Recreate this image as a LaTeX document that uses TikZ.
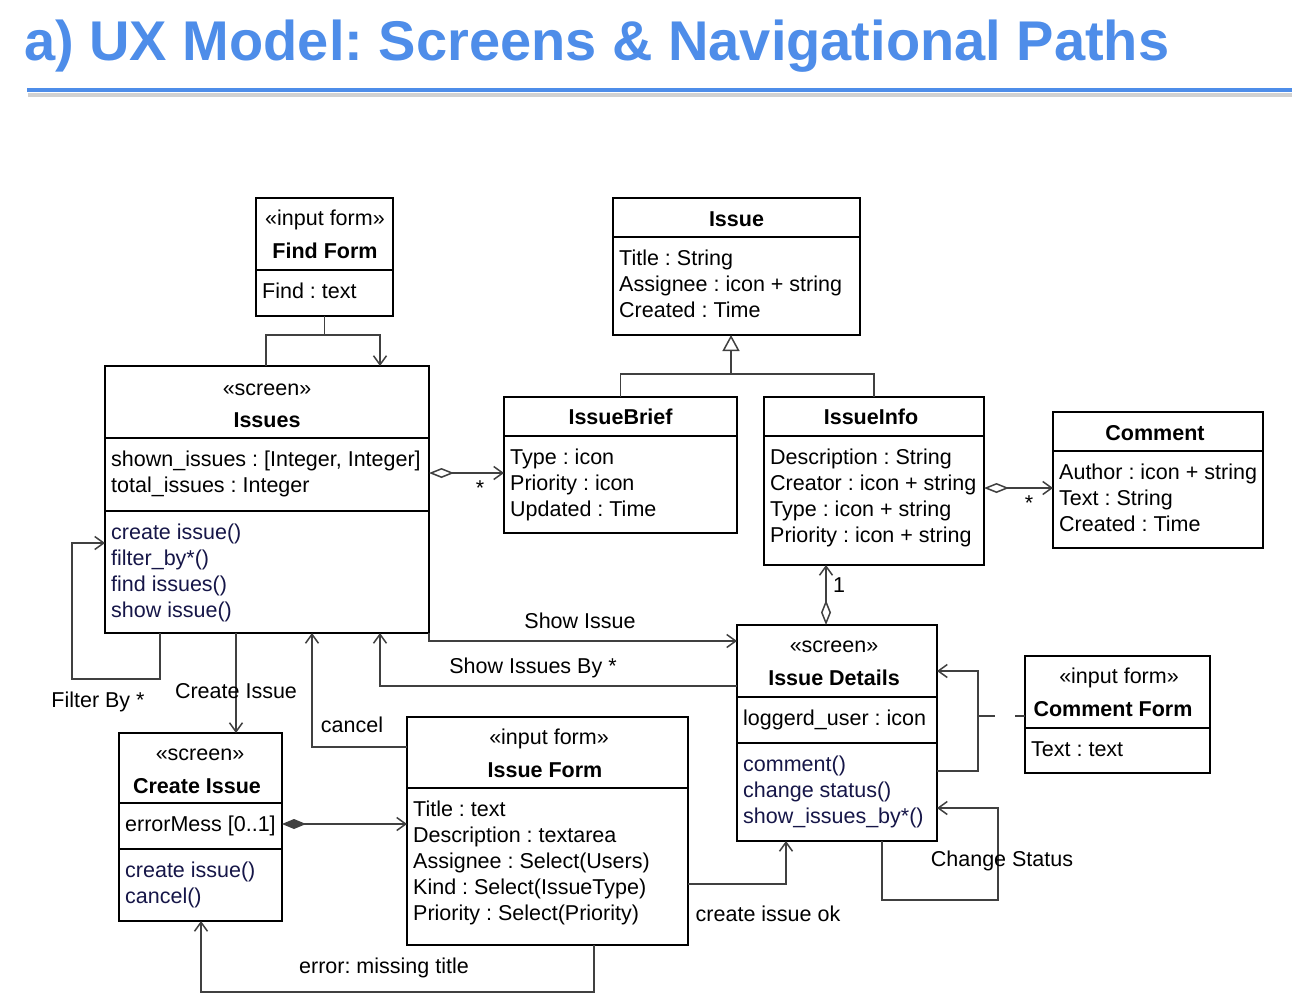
\documentclass[tikz,border=0pt]{standalone}
\usepackage{fontspec}
\setmainfont{Liberation Sans}
\usetikzlibrary{arrows.meta}
\frenchspacing
\definecolor{titleblue}{RGB}{78,141,233}
\definecolor{conncol}{RGB}{64,64,64}
\definecolor{methcol}{RGB}{22,22,72}
\tikzset{
  box/.style={draw=black, line width=1.8pt, fill=white, inner sep=0pt, outer sep=0pt, anchor=north west},
  divline/.style={draw=black, line width=1.8pt},
  txt/.style={font=\frenchspacing\fontsize{21.5}{26}\selectfont, inner sep=0pt, anchor=base west, align=left},
  mtxt/.style={txt, text=methcol},
  stereo/.style={font=\fontsize{21.5}{26}\selectfont, inner sep=0pt, anchor=base},
  cname/.style={font=\bfseries\fontsize{21.5}{26}\selectfont, inner sep=0pt, anchor=base},
  conn/.style={draw=conncol, line width=1.5pt},
  nav/.style={conn, -{Straight Barb[length=9pt,width=13pt]}},
  lbl/.style={font=\frenchspacing\fontsize{21.5}{26}\selectfont, inner sep=0pt, anchor=base},
  odia/.style={{Diamond[open,length=25pt,width=10pt,fill=white]}-{Straight Barb[length=9pt,width=13pt]}},
  fdia/.style={{Diamond[length=24pt,width=10pt]}-{Straight Barb[length=9pt,width=13pt]}},
}
\begin{document}
\begin{tikzpicture}[x=1pt,y=-1pt]
\useasboundingbox (0,0) rectangle (1292,1004);
\fill[white] (0,0) rectangle (1292,1004);

% title
\node[anchor=base west, font=\bfseries\fontsize{56}{60}\selectfont, text=titleblue, inner sep=0pt] (title) at (24,60) {a) UX Model: Screens \& Navigational Paths};
\draw[black!18, line width=4pt] (28,94.5) -- (1292,94.5);
\draw[titleblue, line width=4pt] (27,90) -- (1292,90);

% ---------- boxes ----------
% (multi-line text nodes are anchored at the baseline of their last line)
% Find Form
\node[box, minimum width=137pt, minimum height=118pt] (findform) at (256,198) {};
\draw[divline] (256,270) -- (393,270);
\node[stereo] (ff-s) at (325,225) {«input form»};
\node[cname] (ff-n) at (325,258) {Find Form};
\node[txt] (ff-a) at (262,298) {Find : text};

% Issues
\node[box, minimum width=324pt, minimum height=267pt] (issues) at (105,366) {};
\draw[divline] (105,438) -- (429,438);
\draw[divline] (105,511) -- (429,511);
\node[stereo] (is-s) at (267,395) {«screen»};
\node[cname] (is-n) at (267,427) {Issues};
\node[txt] (is-a) at (111,492) {shown\_issues : [Integer, Integer]\\total\_issues : Integer};
\node[mtxt] (is-m) at (111,617) {create issue()\\filter\_by*()\\find issues()\\show issue()};

% Issue
\node[box, minimum width=247pt, minimum height=137pt] (issue) at (613,198) {};
\draw[divline] (613,237) -- (860,237);
\node[cname] (iu-n) at (736.5,226) {Issue};
\node[txt] (iu-a) at (619,317) {Title : String\\Assignee : icon + string\\Created : Time};

% IssueBrief
\node[box, minimum width=233pt, minimum height=136pt] (issuebrief) at (504,397) {};
\draw[divline] (504,436) -- (737,436);
\node[cname] (ib-n) at (620.5,424) {IssueBrief};
\node[txt] (ib-a) at (510,516) {Type : icon\\Priority : icon\\Updated : Time};

% IssueInfo
\node[box, minimum width=220pt, minimum height=168pt] (issueinfo) at (764,397) {};
\draw[divline] (764,436) -- (984,436);
\node[cname] (ii-n) at (871,424) {IssueInfo};
\node[txt] (ii-a) at (770,542) {Description : String\\Creator : icon + string\\Type : icon + string\\Priority : icon + string};

% Comment
\node[box, minimum width=210pt, minimum height=136pt] (comment) at (1053,412) {};
\draw[divline] (1053,451) -- (1263,451);
\node[cname] (cm-n) at (1155,440) {Comment};
\node[txt] (cm-a) at (1059,531) {Author : icon + string\\Text : String\\Created : Time};

% Issue Details
\node[box, minimum width=200pt, minimum height=216pt] (issuedetails) at (737,625) {};
\draw[divline] (737,697) -- (937,697);
\draw[divline] (737,743) -- (937,743);
\node[stereo] (id-s) at (834,652) {«screen»};
\node[cname] (id-n) at (834,685) {Issue Details};
\node[txt] (id-a) at (743,725) {loggerd\_user : icon};
\node[mtxt] (id-m) at (743,823) {comment()\\change status()\\show\_issues\_by*()};

% Comment Form
\node[box, minimum width=185pt, minimum height=117pt] (commentform) at (1025,656) {};
\draw[divline] (1025,728) -- (1210,728);
\node[stereo] (cf-s) at (1119,683) {«input form»};
\node[cname] (cf-n) at (1113,716) {Comment Form};
\node[txt] (cf-a) at (1031,756) {Text : text};

% Create Issue
\node[box, minimum width=163pt, minimum height=188pt] (createissue) at (119,733) {};
\draw[divline] (119,803) -- (282,803);
\draw[divline] (119,849) -- (282,849);
\node[stereo] (ci-s) at (200,760) {«screen»};
\node[cname] (ci-n) at (197,793) {Create Issue};
\node[txt] (ci-a) at (125,831) {errorMess [0..1]};
\node[mtxt] (ci-m) at (125,903) {create issue()\\cancel()};

% Issue Form
\node[box, minimum width=281pt, minimum height=228pt] (issueform) at (407,717) {};
\draw[divline] (407,788) -- (688,788);
\node[stereo] (if-s) at (549,744) {«input form»};
\node[cname] (if-n) at (545,777) {Issue Form};
\node[txt] (if-a) at (413,920) {Title : text\\Description : textarea\\Assignee : Select(Users)\\Kind : Select(IssueType)\\Priority : Select(Priority)};

% ---------- helper coordinates ----------
\coordinate (findjoin) at (324.5,335);
\coordinate (genjoin) at (731,374);
\coordinate (agg1) at (0,473);
\coordinate (agg2) at (0,488);
\coordinate (agg3) at (826,0);
\coordinate (showy) at (0,641);
\coordinate (sibcorner) at (380,686);
\coordinate (cancelcorner) at (312,747);
\coordinate (crx) at (236,0);
\coordinate (filtx) at (160,0);
\coordinate (filtcorner) at (72,679);
\coordinate (filty) at (0,543);
\coordinate (compy) at (0,824);
\coordinate (errx) at (594,0);
\coordinate (errcorner) at (201,992);
\coordinate (okcorner) at (786,884);
\coordinate (csx) at (882,0);
\coordinate (cscorner) at (998,900);
\coordinate (csy) at (0,808);
\coordinate (cly) at (0,771);
\coordinate (clcorner) at (978,671);
\coordinate (clmid) at (978,716);
\coordinate (iss266) at (266,0);
\coordinate (iss380) at (380,0);

% ---------- connectors ----------
\draw[conn] (findform.south) -- (findjoin);
\draw[nav] (issues.north -| iss266) |- (findjoin) -| (issues.north -| iss380);

\draw[conn] (issuebrief.north) |- (genjoin) -| (issueinfo.north);
\draw[conn, -{Triangle[open,length=16pt,width=17pt,fill=white]}] (genjoin) -- (genjoin |- issue.south);

\draw[conn, odia] (issues.east |- agg1) -- (issuebrief.west |- agg1);
\node[lbl] (star1) at (480,495) {*};
\draw[conn, odia] (issueinfo.east |- agg2) -- (comment.west |- agg2);
\node[lbl] (star2) at (1029,510) {*};

\draw[conn, odia] (issuedetails.north -| agg3) -- (issueinfo.south -| agg3);
\node[lbl] (one) at (839,592) {1};

\draw[nav] (issues.south east) |- (issuedetails.west |- showy);
\node[lbl] (l-show) at (580,628) {Show Issue};

\draw[nav] (issuedetails.west |- sibcorner) -| (issues.south -| sibcorner);
\node[lbl] (l-sib) at (533,673) {Show Issues By *};

\draw[nav] (issueform.west |- cancelcorner) -| (issues.south -| cancelcorner);
\node[lbl] (l-cancel) at (352,732) {cancel};

\draw[nav] (issues.south -| crx) -- (createissue.north -| crx);
\node[lbl] (l-create) at (236,698) {Create Issue};

\draw[nav] (issues.south -| filtx) |- (filtcorner) |- (issues.west |- filty);
\node[lbl] (l-filter) at (98,707) {Filter By *};

\draw[conn, fdia] (createissue.east |- compy) -- (issueform.west |- compy);

\draw[nav] (issueform.south -| errx) |- (errcorner) -- (createissue.south -| errcorner);
\node[lbl] (l-err) at (384,973) {error: missing title};

\draw[nav] (issueform.east |- okcorner) -| (issuedetails.south -| okcorner);
\node[lbl] (l-ok) at (768,921) {create issue ok};

\draw[nav] (issuedetails.south -| csx) |- (cscorner) |- (issuedetails.east |- csy);
\node[lbl] (l-cs) at (1002,866) {Change Status};

\draw[nav] (issuedetails.east |- cly) -| (clcorner) -- (issuedetails.east |- clcorner);
\draw[conn, dash pattern=on 17pt off 20pt] (clmid) -- (commentform.west |- clmid);
\end{tikzpicture}
\end{document}
